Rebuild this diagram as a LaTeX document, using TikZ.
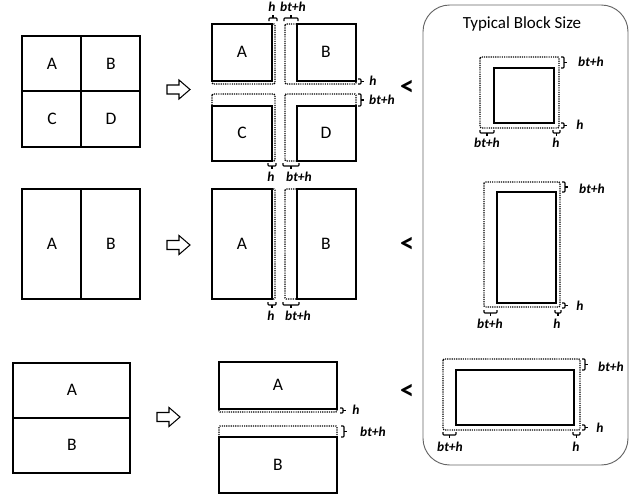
\documentclass[tikz,border=0pt]{standalone}
\usepackage{fontspec}
\setmainfont{Carlito}
\begin{document}
\begin{tikzpicture}[x=0.03cm,y=-0.03cm,
  solidbox/.style={draw=black,line width=1.4pt,line join=miter},
  gridbox/.style={draw=black,line width=1.3pt},
  halo/.style={draw=black,line width=1.2pt,dash pattern=on 1pt off 0.9pt,rounded corners=1pt},
  brk/.style={draw=black,line width=0.9pt,rounded corners=0.8pt},
  blk/.style={font=\fontsize{15}{17}\selectfont,inner sep=0pt},
  dim/.style={font=\fontsize{11.5}{13}\selectfont\bfseries\itshape,inner sep=0pt},
  lt/.style={font=\fontsize{24}{26}\selectfont\bfseries,inner sep=0pt},
  barrow/.pic={\draw[line width=0.9pt,line join=miter] (0,-4.5) -- (12,-4.5) -- (12,-9.5) -- (23,0) -- (12,9.5) -- (12,4.5) -- (0,4.5) -- cycle;}
]
\useasboundingbox (0,0) rectangle (633,496);
% bracket macros
\newcommand\mybrT[3]{\draw[brk] ({#1},{#3+3}) -- ({#1},{#3}) -- ({#2},{#3}) -- ({#2},{#3+3}); \draw[brk] ({(#1+#2)/2},{#3}) -- ({(#1+#2)/2},{#3-3});}
\newcommand\mybrB[3]{\draw[brk] ({#1},{#3-3}) -- ({#1},{#3}) -- ({#2},{#3}) -- ({#2},{#3-3}); \draw[brk] ({(#1+#2)/2},{#3}) -- ({(#1+#2)/2},{#3+3});}
\newcommand\mybrR[3]{\draw[brk] ({#3-3},{#1}) -- ({#3},{#1}) -- ({#3},{#2}) -- ({#3-3},{#2}); \draw[brk] ({#3},{(#1+#2)/2}) -- ({#3+3},{(#1+#2)/2});}

% ---------- left column ----------
\draw[gridbox] (22,36) rectangle (140,147);
\draw[gridbox] (81,36) -- (81,147) (22,91) -- (140,91);
\node[blk] (l1a) at (52,64) {A};
\node[blk] (l1b) at (111,64) {B};
\node[blk] (l1c) at (52,119) {C};
\node[blk] (l1d) at (111,119) {D};

\draw[gridbox] (22,189) rectangle (140,299);
\draw[gridbox] (81,189) -- (81,299);
\node[blk] (l2a) at (52,244) {A};
\node[blk] (l2b) at (111,244) {B};

\draw[gridbox] (13,363) rectangle (130,473);
\draw[gridbox] (13,418) -- (130,418);
\node[blk] (l3a) at (72,390) {A};
\node[blk] (l3b) at (72,445) {B};

% arrows
\pic (ar1) at (167,89.5) {barrow};
\pic (ar2) at (167,245) {barrow};
\pic (ar3) at (157,417) {barrow};

% ---------- middle column, group 1 ----------
\draw[halo] (212,24) rectangle (275,84);
\draw[halo] (285,24) rectangle (356,84);
\draw[halo] (212,94) rectangle (275,161);
\draw[halo] (285,94) rectangle (356,161);
\draw[solidbox] (212,24) rectangle (272,81);
\draw[solidbox] (297,24) rectangle (356,81);
\draw[solidbox] (212,106) rectangle (272,161);
\draw[solidbox] (297,106) rectangle (356,161);
\node[blk] (m1a) at (242,52) {A};
\node[blk] (m1b) at (326,52) {B};
\node[blk] (m1c) at (242,133) {C};
\node[blk] (m1d) at (326,133) {D};
\mybrT{269}{277}{18}
\mybrT{284}{298}{18}
\node[dim] (m1th) at (272,7) {h};
\node[dim] (m1tb) at (293,7) {bt+h};
\mybrR{79}{84}{361}
\mybrR{94}{106}{361}
\node[dim] (m1rh) at (373,81) {h};
\node[dim] (m1rb) at (382,100) {bt+h};
\mybrB{268}{276}{166}
\mybrB{283}{299}{166}
\node[dim] (m1bh) at (271,177) {h};
\node[dim] (m1bb) at (299,177) {bt+h};

% ---------- middle column, group 2 ----------
\draw[halo] (212,189) rectangle (275,299);
\draw[halo] (285,189) rectangle (356,299);
\draw[solidbox] (212,189) rectangle (272,299);
\draw[solidbox] (297,189) rectangle (356,299);
\node[blk] (m2a) at (242,244) {A};
\node[blk] (m2b) at (326,244) {B};
\mybrB{268}{276}{305}
\mybrB{283}{299}{305}
\node[dim] (m2bh) at (271,316) {h};
\node[dim] (m2bb) at (298,316) {bt+h};

% ---------- middle column, group 3 ----------
\draw[halo] (219,362) rectangle (337,412);
\draw[halo] (219,426) rectangle (337,493);
\draw[solidbox] (219,362) rectangle (337,409);
\draw[solidbox] (219,437) rectangle (337,493);
\node[blk] (m3a) at (278,385) {A};
\node[blk] (m3b) at (278,465) {B};
\mybrR{408}{413}{343}
\mybrR{426}{437}{344}
\node[dim] (m3rh) at (356,410) {h};
\node[dim] (m3rb) at (373,432) {bt+h};

% ---------- less-than signs ----------
\node[lt] (lt1) at (407,88) {<};
\node[lt] (lt2) at (407,245) {<};
\node[lt] (lt3) at (407,392) {<};

% ---------- right panel ----------
\draw[draw=black!60,line width=0.8pt,rounded corners=0.8cm] (423,5) rectangle (628,465);
\node[font=\fontsize{14.5}{17}\selectfont,inner sep=0pt] (title) at (522,24) {Typical Block Size};

% square
\draw[halo] (480,57) rectangle (559,128);
\draw[solidbox] (494,68) rectangle (554,123);
\mybrR{57}{68}{564}
\mybrR{123}{128}{564}
\node[dim] (r1b) at (591,62) {bt+h};
\node[dim] (r1h) at (580,125) {h};
\mybrB{480}{494}{133}
\mybrB{553}{560}{133}
\node[dim] (r1bb) at (487,143) {bt+h};
\node[dim] (r1bh) at (556,143) {h};

% tall rectangle
\draw[halo] (484,182) rectangle (560,307);
\draw[solidbox] (497,192) rectangle (556,303);
\mybrR{182}{192}{565}
\mybrR{303}{308}{565}
\node[dim] (r2b) at (592,189) {bt+h};
\node[dim] (r2h) at (580,306) {h};
\mybrB{484}{497}{313}
\mybrB{555}{561}{313}
\node[dim] (r2bb) at (490,324) {bt+h};
\node[dim] (r2bh) at (557,324) {h};

% wide rectangle
\draw[halo] (443,359) rectangle (580,430);
\draw[solidbox] (456,370) rectangle (574,425);
\mybrR{359}{370}{585}
\mybrR{425}{430}{585}
\node[dim] (r3b) at (611,367) {bt+h};
\node[dim] (r3h) at (600,428) {h};
\mybrB{443}{456}{435}
\mybrB{573}{580}{435}
\node[dim] (r3bb) at (450,447) {bt+h};
\node[dim] (r3bh) at (576,447) {h};
\end{tikzpicture}
\end{document}
